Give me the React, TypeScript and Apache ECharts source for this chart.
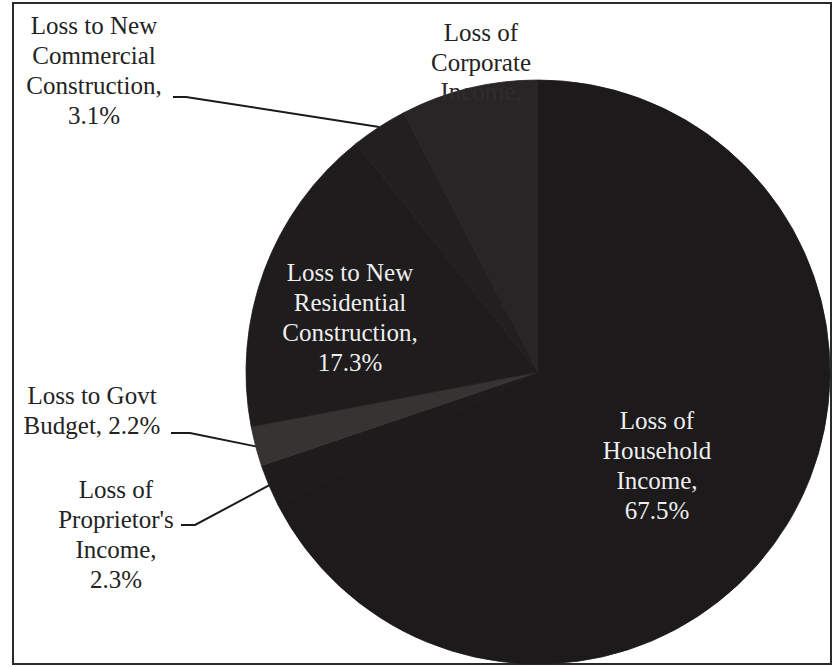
import React, { useEffect, useRef } from "react";
import * as echarts from "echarts";

// ---- data ----
const categories = [
  "Loss of Household Income",
  "Loss of Proprietor's Income",
  "Loss to Govt Budget",
  "Loss to New Residential Construction",
  "Loss to New Commercial Construction",
  "Loss of Corporate Income",
];
const values = [67.5, 2.3, 2.2, 17.3, 3.1, 7.6];
const labelTexts = [
  "Loss of\nHousehold\nIncome,\n67.5%",
  "Loss of\nProprietor's\nIncome,\n2.3%",
  "Loss to Govt\nBudget, 2.2%",
  "Loss to New\nResidential\nConstruction,\n17.3%",
  "Loss to New\nCommercial\nConstruction,\n3.1%",
  "Loss of\nCorporate",
];
const hiddenText = "Income,";

// ---- styling / layout ----
const CX = 538;
const CY = 372;
const R = 292;
const sliceColors = ["#1c1a1b", "#1d1b1c", "#363333", "#1e1c1d", "#211f20", "#282526"];
const insideLabel = [true, false, false, true, false, false];
const labelPlace: { x: number; y: number; bend?: number[][] }[] = [
  { x: 657, y: 465 },
  { x: 116, y: 534, bend: [[195, 525], [181, 525]] },
  { x: 92, y: 410, bend: [[190, 433], [171, 433]] },
  { x: 350, y: 317 },
  { x: 94, y: 70, bend: [[186, 97], [173, 97]] },
  { x: 481, y: 47 },
];
const FONT_FAMILY = "Liberation Serif";
const FONT_SIZE = 25;
const LINE_H = 30;

export default function App() {
  const ref = useRef<HTMLDivElement>(null);
  useEffect(() => {
    if (!ref.current) return;
    const chart = echarts.init(ref.current, null, { renderer: "svg" });

    const canvas = document.createElement("canvas");
    const ctx = canvas.getContext("2d");
    const measure = (s: string) => {
      if (!ctx) return s.length * FONT_SIZE * 0.45;
      ctx.font = `${FONT_SIZE}px ${FONT_FAMILY}`;
      return ctx.measureText(s).width;
    };

    const total = values.reduce((a, b) => a + b, 0);
    const graphics: any[] = [
      {
        type: "rect",
        shape: { x: 13, y: 3, width: 818, height: 661 },
        style: { fill: "none", stroke: "#2a2a2a", lineWidth: 2 },
      },
    ];
    const addLines = (text: string, cx: number, cy: number, fill: string) => {
      const lines = text.split("\n");
      const n = lines.length;
      lines.forEach((ln, k) => {
        const lineCenterY = cy + (k - (n - 1) / 2) * LINE_H;
        graphics.push({
          type: "text",
          z: 100,
          x: cx - measure(ln) / 2,
          y: lineCenterY - FONT_SIZE / 2,
          style: {
            text: ln,
            fontFamily: FONT_FAMILY,
            fontSize: FONT_SIZE,
            fill,
          },
        });
      });
    };
    let cum = 0;
    values.forEach((v, i) => {
      const mid = ((cum + v / 2) / total) * Math.PI * 2;
      cum += v;
      const edge = [CX + R * Math.sin(mid), CY - R * Math.cos(mid)];
      const p = labelPlace[i];
      if (p.bend) {
        graphics.push({
          type: "polyline",
          z: 50,
          shape: { points: [edge, p.bend[0], p.bend[1]] },
          style: { stroke: "#1a1a1a", lineWidth: 2, fill: "none" },
        });
      }
      addLines(labelTexts[i], p.x, p.y, insideLabel[i] ? "#eeeeee" : "#232323");
    });
    addLines(hiddenText, labelPlace[5].x, labelPlace[5].y + 44, "#2f2c2c");

    chart.setOption({
      animation: false,
      series: [
        {
          type: "pie",
          center: [CX, CY],
          radius: R,
          startAngle: 90,
          clockwise: true,
          label: { show: false },
          labelLine: { show: false },
          data: categories.map((name, i) => ({
            name,
            value: values[i],
            itemStyle: { color: sliceColors[i], borderColor: sliceColors[i], borderWidth: 0.8 },
          })),
        },
      ],
      graphic: graphics,
    });
    return () => chart.dispose();
  }, []);
  return (
    <div
      ref={ref}
      style={{ position: "fixed", left: 0, top: 0, width: 835, height: 667, background: "#ffffff" }}
    />
  );
}
